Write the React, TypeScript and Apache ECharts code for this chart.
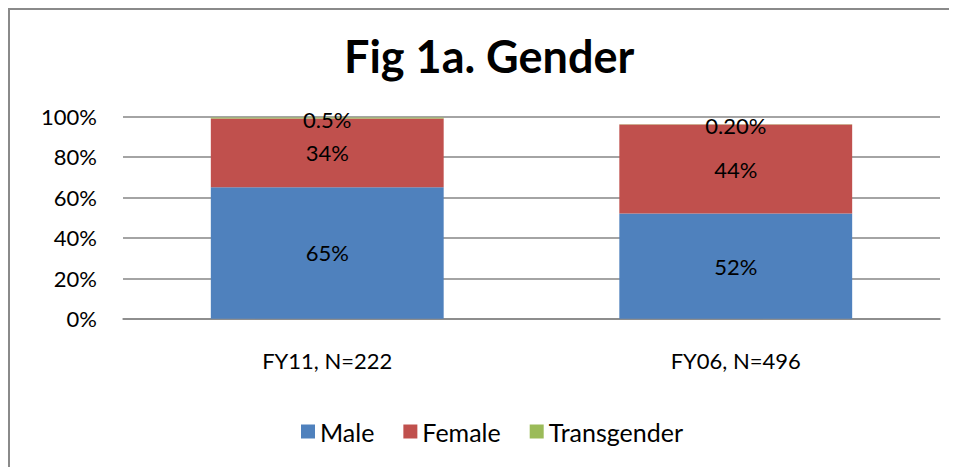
import React, { useEffect, useRef } from "react";
import * as echarts from "echarts";

const categories = ["FY11, N=222", "FY06, N=496"];
const maleValues = [65, 52];
const femaleValues = [34, 44];
const transValues = [0.5, 0.2];
const maleLabels = ["65%", "52%"];
const femaleLabels = ["34%", "44%"];
const transLabels = ["0.5%", "0.20%"];
const yTicks = [0, 20, 40, 60, 80, 100];

const FONT = "Lato, 'Open Sans', sans-serif";

export default function App() {
  const ref = useRef<HTMLDivElement>(null);
  useEffect(() => {
    if (!ref.current) return;
    const chart = echarts.init(ref.current, null, { renderer: "svg" });
    const labelStyle = (labels: string[]) => ({
      show: true,
      position: "inside" as const,
      color: "#000",
      fontFamily: FONT,
      fontSize: 22,
      formatter: (p: any) => labels[p.dataIndex],
    });
    chart.setOption({
      animation: false,
      textStyle: { fontFamily: FONT },
      title: {
        text: "Fig 1a. Gender",
        left: 331,
        top: 20,
        textStyle: { fontFamily: FONT, fontWeight: "bold", fontSize: 45, color: "#000" },
      },
      graphic: [
        {
          type: "rect",
          shape: { x: 1, y: 1, width: 2000, height: 2000 },
          style: { fill: "none", stroke: "#8a8a8a", lineWidth: 2 },
          silent: true,
        },
      ],
      legend: {
        data: ["Male", "Female", "Transgender"],
        left: 288,
        top: 406,
        itemWidth: 14,
        itemHeight: 14,
        itemGap: 29,
        icon: "rect",
        textStyle: { fontFamily: FONT, fontSize: 25, color: "#000" },
      },
      grid: { left: 115, right: 17, top: 108.5, height: 202.2 },
      xAxis: {
        type: "category",
        data: categories,
        axisLine: { show: true, lineStyle: { color: "#868686", width: 1.5 } },
        axisTick: { show: false },
        axisLabel: { color: "#000", fontFamily: FONT, fontSize: 22, margin: 31 },
      },
      yAxis: {
        type: "value",
        min: yTicks[0],
        max: yTicks[yTicks.length - 1],
        interval: 20,
        axisLine: { show: false },
        axisTick: { show: false },
        axisLabel: {
          color: "#000",
          fontFamily: FONT,
          fontSize: 22,
          margin: 26,
          formatter: (v: number) => v + "%",
        },
        splitLine: { lineStyle: { color: "#868686", width: 1.5 } },
      },
      series: [
        {
          name: "Male",
          type: "bar",
          stack: "g",
          barWidth: "57%",
          data: maleValues,
          itemStyle: { color: "#4F81BD" },
          label: labelStyle(maleLabels),
        },
        {
          name: "Female",
          type: "bar",
          stack: "g",
          data: femaleValues,
          itemStyle: { color: "#C0504D" },
          label: labelStyle(femaleLabels),
        },
        {
          name: "Transgender",
          type: "bar",
          stack: "g",
          data: transValues,
          itemStyle: { color: "#9BBB59" },
          label: { ...labelStyle(transLabels), offset: [0, 1] },
        },
      ],
    });
    return () => chart.dispose();
  }, []);
  return <div ref={ref} style={{ width: 949, height: 459 }} />;
}
